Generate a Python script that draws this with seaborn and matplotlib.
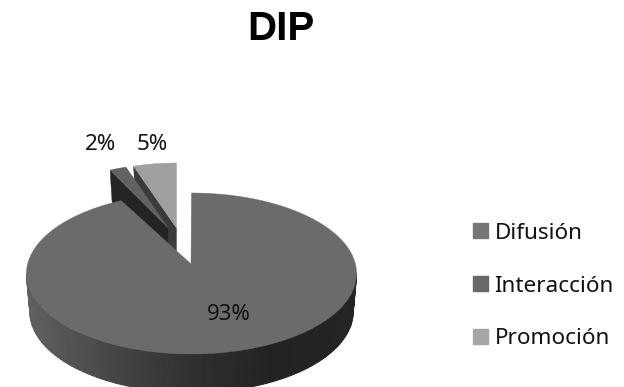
import numpy as np
import matplotlib
matplotlib.use("Agg")
import matplotlib.pyplot as plt
import seaborn as sns
from matplotlib.patches import Patch, Polygon

categories = ["Difusión", "Interacción", "Promoción"]
shares = [93, 2, 5]
top_colors = ["#6b6b6b", "#626262", "#a0a0a0"]
legend_colors = ["#767676", "#686868", "#a6a6a6"]

sns.set_theme(style="white")
plt.rcParams["font.family"] = ["Noto Sans", "DejaVu Sans"]

fig, ax = plt.subplots(figsize=(6.24, 3.87), dpi=100)
ax.set_position([0, 0, 1, 1])
ax.set_xlim(0, 624)
ax.set_ylim(387, 0)
ax.axis("off")

# slice limits in degrees, running clockwise from twelve o'clock
ends = 90 - np.cumsum([0] + shares) * 3.6
spans = {name: (ends[i], ends[i + 1]) for i, name in enumerate(categories)}


def arc(cx, cy, rx, ry, start, stop, n=160):
    t = np.radians(np.linspace(start, stop, n))
    return np.column_stack([cx + rx * np.cos(t), cy - ry * np.sin(t)])


def detached_slice(name, color, wall, apex, rx, ry, depth):
    start, stop = spans[name]
    outer = arc(apex[0], apex[1], rx, ry, start, stop, 12)
    corner = outer[0]
    ax.add_patch(Polygon([corner, apex, (apex[0], apex[1] + depth),
                          (corner[0] + 2, corner[1] + depth)],
                         closed=True, fc=wall, ec=wall, lw=0.3))
    ax.add_patch(Polygon(np.vstack([[apex], outer]), closed=True,
                         fc=color, ec=color, lw=0.3))


# the two slices pulled out of the pie, farthest first
detached_slice("Promoción", top_colors[2], "#3b3b3b", (176.5, 228), 139, 65, 32)
detached_slice("Interacción", top_colors[1], "#242424", (168, 228), 136, 64, 32)

# curved wall of the main slice, shaded by horizontal position
cx, cy, rx, ry = 191.5, 273.5, 165, 80.5
depth = 38.5
steps = 90
shade = sns.blend_palette(["#606060", "#474747", "#303030", "#222222",
                           "#242424"], 201)
upper = arc(cx, cy, rx, ry, 180, 360, steps + 1)
lower = arc(cx, cy + depth, rx - 3.5, ry, 180, 360, steps + 1)
for i in range(steps):
    mid_x = (upper[i, 0] + upper[i + 1, 0]) / 2
    tone = shade[int(round((mid_x - (cx - rx)) / (2 * rx) * 200))]
    ax.add_patch(Polygon([upper[i], upper[i + 1], lower[i + 1], lower[i]],
                         closed=True, fc=tone, ec=tone, lw=0.8))

# top face of the main slice
start, stop = spans["Difusión"]
rim = arc(cx, cy, rx, ry, start, stop, 400)
ax.add_patch(Polygon(np.vstack([[(191, 264)], rim]), closed=True,
                     fc=top_colors[0], ec=top_colors[0], lw=0.3))

# percentage labels
label_font = dict(fontsize=16, color="#111111", ha="center", va="center")
ax.text(229, 315, f"{shares[0]}%", **label_font)
ax.text(101, 144, f"{shares[1]}%", **label_font)
ax.text(152, 144, f"{shares[2]}%", **label_font)

ax.text(280.5, 29, "DIP", family="Liberation Sans", fontsize=29,
        fontweight="bold", color="#000000", ha="center", va="center")

handles = [Patch(fc=c, ec=c) for c in legend_colors]
ax.legend(handles, categories, loc="center left",
          bbox_to_anchor=(473 / 624, 1 - 286 / 387), frameon=False,
          fontsize=16.2, labelcolor="#111111", handlelength=0.66,
          handleheight=0.66, handletextpad=0.3, labelspacing=1.41,
          borderpad=0, borderaxespad=0)

fig.savefig("out.png", dpi=100)
